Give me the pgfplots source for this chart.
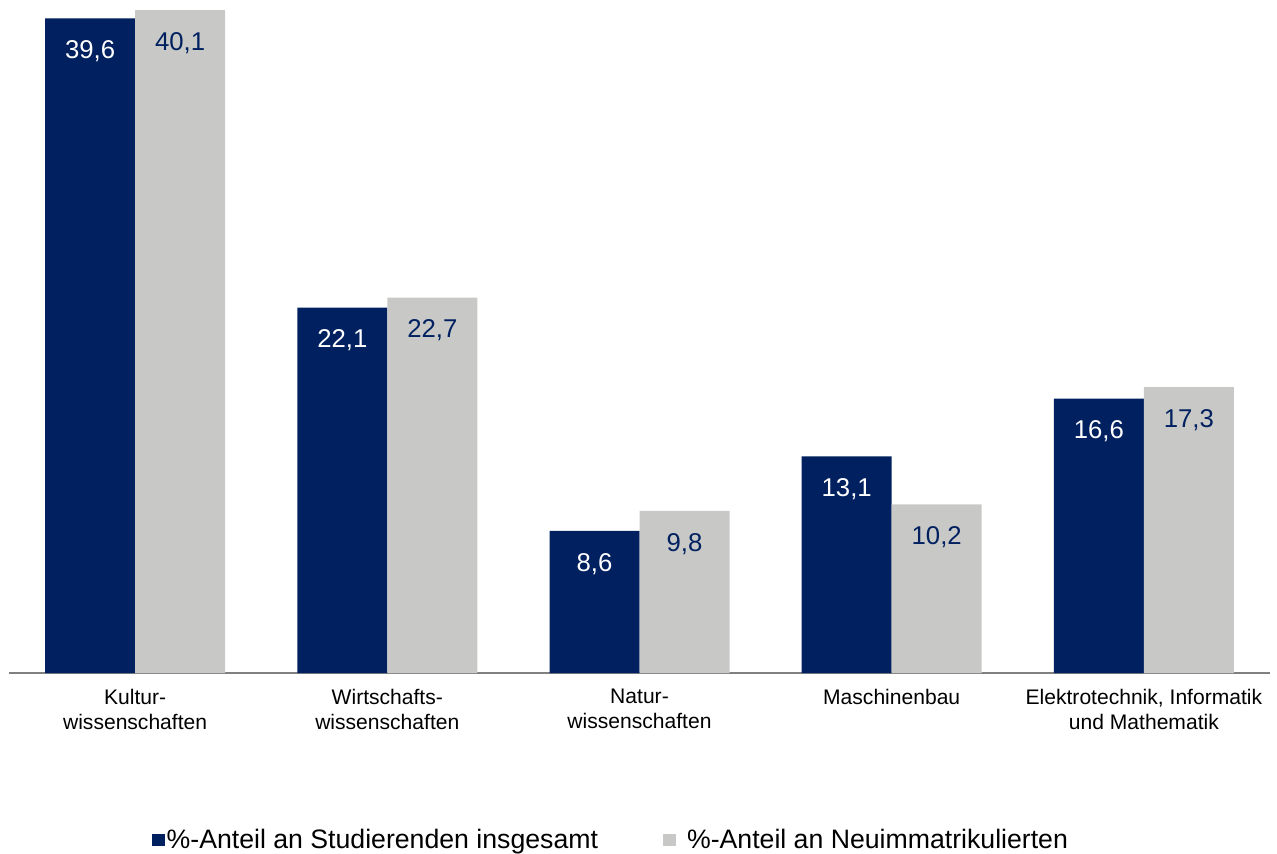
\documentclass[border=0pt]{standalone}
\usepackage{fontspec}
\setmainfont{Liberation Sans}
\usepackage{pgfplots}
\pgfplotsset{compat=1.18}
\definecolor{navy}{HTML}{002060}
\definecolor{lgray}{HTML}{C8C9C7}
\definecolor{axgray}{HTML}{808080}
\begin{document}
\begin{tikzpicture}
\begin{axis}[
  scale only axis, width=945.75pt, height=504.75pt,
  xmin=-0.5, xmax=4.5, ymin=0, ymax=40.71,
  axis x line*=bottom, axis y line=none,
  x axis line style={axgray, line width=1.5pt, -},
  ybar=0pt, bar width=67.5pt,
  xtick={0,1,2,3,4}, major tick length=0pt,
  xticklabels={{Kultur-\\wissenschaften},{Wirtschafts-\\wissenschaften},{Natur-\\wissenschaften},{Maschinenbau},{Elektrotechnik, Informatik\\und Mathematik}},
  xticklabel style={align=center, font=\fontsize{15.8}{18.75}\selectfont, text=black, yshift=-8.5pt},
  /pgf/number format/.cd, fixed, fixed zerofill, precision=1, use comma, assume math mode=true,
  /pgfplots/.cd,
  legend columns=2,
  legend style={at={(0.4774,-0.2482)}, anchor=center, draw=none, fill=none,
    font=\fontsize{20}{24}\selectfont,
    /tikz/every even column/.append style={column sep=47.5pt},
    nodes={inner sep=1.5pt}},
  every node near coord/.append style={anchor=north, inner sep=0pt, yshift=-16.5pt, font=\fontsize{19.3}{23}\selectfont},
]
\addplot[fill=navy, draw=none, nodes near coords, every node near coord/.append style={text=white},
  legend image code/.code={\fill[navy] (0pt,-4.75pt) rectangle (9.5pt,4.75pt);}]
  coordinates {(0,39.6) (1,22.1) (2,8.6) (3,13.1) (4,16.6)};
\addlegendentry{\%-Anteil an Studierenden insgesamt}
\addplot[fill=lgray, draw=none, nodes near coords, every node near coord/.append style={text=navy},
  legend image code/.code={\fill[lgray] (0pt,-4.75pt) rectangle (9.5pt,4.75pt);}]
  coordinates {(0,40.1) (1,22.7) (2,9.8) (3,10.2) (4,17.3)};
\addlegendentry{\hspace{6.75pt}\%-Anteil an Neuimmatrikulierten}
\coordinate (o) at (rel axis cs:0,0);
\end{axis}
\pgfresetboundingbox
\useasboundingbox ([shift={(-6.75pt,-135pt)}]o) rectangle ++(957.75pt,639.75pt);
\end{tikzpicture}
\end{document}
